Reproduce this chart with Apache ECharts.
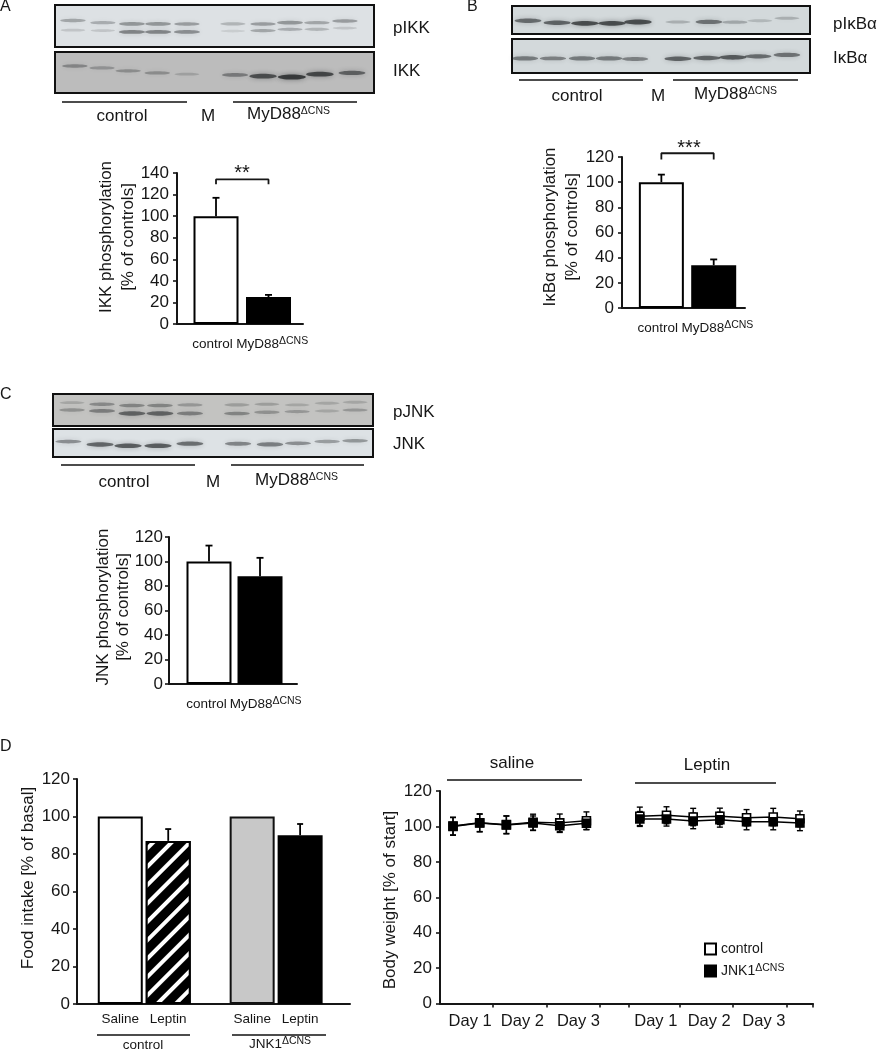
<!DOCTYPE html>
<html><head><meta charset="utf-8">
<style>html,body{margin:0;padding:0;background:#fff}#c{width:880px;height:1050px}</style>
<script src="https://cdn.jsdelivr.net/npm/echarts@6/dist/echarts.min.js"></script>
</head><body><div id="c"></div>
<script>
// ---------- data ----------
const barCatsMyd = ['control{sup| }', 'MyD88{sup|ΔCNS}'];
const ikkValues = [100, 25];
const ikkErrors = [17, 2];
const ikbValues = [100, 34];
const ikbErrors = [6, 4.6];
const jnkValues = [100, 88];
const jnkErrors = [13, 15];
const foodCats = ['Saline', 'Leptin', 'Saline', 'Leptin'];
const foodValues = [100, 87, 100, 90];
const foodErrors = [0, 6.3, 0, 6];
const dayLabels = ['Day 1', 'Day 2', 'Day 3', 'Day 1', 'Day 2', 'Day 3'];
const salineDays = [1, 2, 3, 4, 5, 6];
const leptinDays = [8, 9, 10, 11, 12, 13, 14];
const salineControl = [100.2, 102.1, 101, 102.3, 102, 103.2];
const salineControlErr = [5, 5, 5, 4.6, 5, 5];
const salineJnk = [100, 101.9, 100.8, 101.9, 100.4, 101.8];
const salineJnkErr = [5, 5, 5, 4, 3.8, 3.6];
const leptinControl = [105.7, 106.3, 105.3, 105.7, 104.9, 105.3, 104.3];
const leptinControlErr = [5.2, 4.8, 4.9, 4.6, 4.6, 4.9, 4.4];
const leptinJnk = [104.2, 104.2, 103.1, 103.8, 102.6, 102.6, 101.9];
const leptinJnkErr = [4.2, 4, 4.4, 4.2, 4.5, 4.5, 4.3];
// blots: lane number, height in the membrane (0..1), band density (0..1)
const pikkLanes = [1, 2.1, 3.17, 4.13, 5.19, 6.88, 7.99, 8.98, 9.97, 11];
const pikkUpperY = [.63, .58, .55, .55, .55, .55, .55, .58, .58, .62];
const pikkUpper = [.35, .3, .45, .45, .4, .25, .4, .45, .35, .4];
const pikkLowerY = [.4, .39, .36, .36, .36, .38, .39, .42, .42, .45];
const pikkLower = [.15, .15, .55, .55, .5, .1, .35, .3, .25, .15];
const ikkLanes = [1.07, 2.07, 3.03, 4.1, 5.19, 6.96, 7.99, 9.05, 10.08, 11.26];
const ikkY = [.66, .61, .54, .49, .46, .44, .41, .39, .46, .49];
const ikkBand = [.4, .3, .35, .35, .2, .5, .85, 1, .9, .7];
const pikbLanes = [1, 2.12, 3.19, 4.23, 5.23, 6.77, 7.96, 8.96, 9.92, 10.96];
const pikbY = [.475, .4, .38, .38, .43, .43, .43, .42, .475, .56];
const pikbBand = [.7, .75, .9, .9, .9, .25, .65, .3, .2, .25];
const ikbLanes = [.88, 1.96, 3.08, 4.12, 5.12, 6.77, 7.88, 8.88, 9.85, 10.96];
const ikbY = [.43, .43, .43, .43, .41, .42, .44, .46, .49, .53];
const ikbBand = [.6, .55, .6, .6, .55, .75, .75, .8, .7, .65];
const pjnkLanes = [1, 2.07, 3.14, 4.14, 5.21, 6.89, 7.96, 9.04, 10.11, 11.11];
const pjnkUpperY = [.73, .68, .64, .64, .66, .66, .68, .66, .71, .74];
const pjnkUpper = [.2, .4, .45, .45, .3, .25, .25, .2, .2, .2];
const pjnkLowerY = [.5, .47, .39, .39, .39, .39, .43, .45, .47, .5];
const pjnkLower = [.35, .5, .7, .7, .5, .45, .35, .3, .2, .3];
const jnkLanes = [.87, 2, 3, 4.07, 5.21, 6.93, 8.07, 9.07, 10.11, 11.11];
const jnkY = [.55, .45, .4, .4, .476, .476, .45, .49, .55, .58];
const jnkBand = [.5, .75, .8, .8, .7, .55, .6, .5, .4, .45];

// ---------- builders ----------
const FONT = '"Liberation Sans", Arial, sans-serif';
const INK = '#161616';
const SUP = {sup: {fontSize: 10.5, fontFamily: FONT, color: INK, verticalAlign: 'top', lineHeight: 16, padding: [0, 0, 0, 0]}};
const grid = [], xAxis = [], yAxis = [], series = [], graphic = [];

function addGrid(left, top, right, bottom, xa, ya, extra) {
  grid.push(Object.assign({left, top, width: right - left, height: bottom - top, show: false}, extra || {}));
  const i = grid.length - 1;
  xAxis.push(Object.assign({gridIndex: i, type: 'value', splitLine: {show: false}}, xa));
  yAxis.push(Object.assign({gridIndex: i, type: 'value', splitLine: {show: false}}, ya));
  return i;
}
const line2 = {lineStyle: {color: INK, width: 2}};
function yVisible(max, margin) {
  return {min: 0, max, interval: 20, axisLine: Object.assign({show: true}, line2),
    axisTick: {show: true, length: 4, lineStyle: {color: INK, width: 1.6}},
    axisLabel: {fontSize: 17, fontFamily: FONT, color: INK, margin: margin || 8}};
}
function xVisible(min, max, labels, at, size, margin) {
  return {min, max, axisLine: Object.assign({show: true, onZero: false}, line2), axisTick: {show: false},
    axisLabel: {customValues: at, fontSize: size, fontFamily: FONT, color: INK, margin, rich: SUP, hideOverlap: false,
      showMinLabel: true, showMaxLabel: true,
      formatter: v => labels[at.indexOf(v)] || ''}};
}
function errorSeries(gi, data, cap, width) {
  series.push({type: 'custom', xAxisIndex: gi, yAxisIndex: gi, z: 1, silent: true, data,
    renderItem(p, api) {
      const x = api.value(0), lo = api.coord([x, api.value(1)]), hi = api.coord([x, api.value(2)]);
      const st = {stroke: '#000', lineWidth: width, fill: null};
      const kids = [{type: 'line', shape: {x1: lo[0], y1: lo[1], x2: hi[0], y2: hi[1]}, style: st},
                    {type: 'line', shape: {x1: hi[0] - cap, y1: hi[1], x2: hi[0] + cap, y2: hi[1]}, style: st}];
      if (api.value(3)) kids.push({type: 'line', shape: {x1: lo[0] - cap, y1: lo[1], x2: lo[0] + cap, y2: lo[1]}, style: st});
      return {type: 'group', children: kids};
    }});
}
const WHITE = {color: '#fff', borderColor: '#000', borderWidth: 2};
const BLACK = {color: '#000', borderColor: '#000', borderWidth: 2};
function barPanel(g, xr, labelAt, max, values, errors, bracket, tickMargin) {
  const gi = addGrid(g[0], g[1], g[2], g[3], xVisible(xr[0], xr[1], barCatsMyd, labelAt, 13.5, 12), yVisible(max, tickMargin));
  errorSeries(gi, values.map((v, i) => [i + 1, v, v + errors[i], 0]), 3.5, 1.8);
  series.push({type: 'bar', xAxisIndex: gi, yAxisIndex: gi, barWidth: 45, z: 2, silent: true,
    data: values.map((v, i) => ({value: [i + 1, v], itemStyle: i ? BLACK : WHITE}))});
  if (bracket) series.push({type: 'line', xAxisIndex: gi, yAxisIndex: gi, symbol: 'none', silent: true, clip: false, z: 3,
    lineStyle: {color: INK, width: 1.8}, data: [[1, bracket[0]], [1, bracket[1]], [2, bracket[1]], [2, bracket[0]]]});
  return gi;
}
function bandSeries(gi, lanes, ys, dens) {
  series.push({type: 'custom', xAxisIndex: gi, yAxisIndex: gi, silent: true,
    data: lanes.map((l, i) => [l, ys[i], dens[i]]),
    renderItem(p, api) {
      const c = api.coord([api.value(0), api.value(1)]), d = api.value(2);
      const a = 0.03 + 0.72 * d;
      return {type: 'ellipse', shape: {cx: c[0], cy: c[1], rx: 12 + 2 * d, ry: 1.2 + 1.4 * d},
        style: {fill: 'rgba(25,28,30,' + a.toFixed(2) + ')', shadowBlur: 5, shadowColor: 'rgba(25,28,30,' + (a * 0.8).toFixed(2) + ')'}};
    }});
}
function blot(b, bg, laneMin, laneMax, rows) {
  const gi = addGrid(b[0], b[1], b[2], b[3],
    {min: laneMin, max: laneMax, show: false}, {min: 0, max: 1, show: false},
    {show: true, backgroundColor: bg, borderColor: '#111', borderWidth: 2});
  rows.forEach(r => bandSeries(gi, r[0], r[1], r[2]));
}
function text(x, y, t, size, opt) {
  graphic.push(Object.assign({type: 'text', x, y, silent: true, z: 50,
    style: {text: t, fontSize: size, fontFamily: FONT, fill: INK, align: 'center', verticalAlign: 'middle', rich: SUP}}, opt || {}));
}
function leftText(x, y, t, size) {
  text(x, y, t, size); graphic[graphic.length - 1].style.align = 'left';
}
function vtext(x, y, t, size) { text(x, y, t, size, {rotation: Math.PI / 2}); }
function rule(x1, x2, y, w) {
  graphic.push({type: 'line', silent: true, z: 50, shape: {x1, y1: y, x2, y2: y}, style: {stroke: '#111', lineWidth: w || 1.7}});
}

// ---------- panel A ----------
blot([55, 5, 374, 47], '#dde1e4', .34, 12.07, [[pikkLanes, pikkUpperY, pikkUpper], [pikkLanes, pikkLowerY, pikkLower]]);
blot([55, 52, 374, 93], '#bcbcbc', .34, 12.07, [[ikkLanes, ikkY, ikkBand]]);
rule(62, 187, 102); rule(233, 357, 102);
text(122, 116, 'control', 17); text(208, 116, 'M', 17); leftText(247, 114, 'MyD88{sup|ΔCNS}', 17);
leftText(393, 28, 'pIKK', 17); leftText(393, 71, 'IKK', 17);
leftText(0, 7, 'A', 16);
barPanel([177, 173, 303, 324], [.257, 2.657], [.96, 2.07], 140, ikkValues, ikkErrors, [129.5, 134]);
text(242, 173, '**', 20);
vtext(106, 237, 'IKK phosphorylation', 17); vtext(128, 237, '[% of controls]', 17);

// ---------- panel B ----------
blot([512, 6, 810, 34], '#d3d9db', .385, 11.85, [[pikbLanes, pikbY, pikbBand]]);
blot([512, 39, 810, 73], '#d3d9db', .385, 11.85, [[ikbLanes, ikbY, ikbBand]]);
rule(519, 643, 80); rule(673, 798, 80);
text(577, 96, 'control', 17); text(658, 96, 'M', 17); leftText(694, 94, 'MyD88{sup|ΔCNS}', 17);
leftText(833, 24, 'pIκBα', 17); leftText(833, 58, 'IκBα', 17);
leftText(467, 7, 'B', 16);
barPanel([622, 157, 745, 308], [.248, 2.598], [.96, 2.07], 120, ikbValues, ikbErrors, [118, 123]);
text(689, 148, '***', 20);
vtext(550, 227, 'IκBα phosphorylation', 17); vtext(572, 227, '[% of controls]', 17);

// ---------- panel C ----------
blot([53, 394, 373, 426], '#c3c3c1', .32, 11.75, [[pjnkLanes, pjnkUpperY, pjnkUpper], [pjnkLanes, pjnkLowerY, pjnkLower]]);
blot([53, 429, 373, 457], '#dde2e5', .32, 11.75, [[jnkLanes, jnkY, jnkBand]]);
rule(61, 195, 465); rule(231, 364, 465);
text(124, 482, 'control', 17); text(213, 482, 'M', 17); leftText(255, 480, 'MyD88{sup|ΔCNS}', 17);
leftText(393, 412, 'pJNK', 17); leftText(393, 444, 'JNK', 17);
leftText(0, 395, 'C', 16);
barPanel([169, 537, 297, 684], [.216, 2.725], [.98, 2.11], 120, jnkValues, jnkErrors, null, 6);
vtext(103, 607, 'JNK phosphorylation', 17); vtext(123, 607, '[% of controls]', 17);

// ---------- panel D left ----------
leftText(0, 747, 'D', 16);
const foodAt = [1, 2, 3.75, 4.75];
const giF = addGrid(77, 779, 350, 1004, xVisible(.098, 5.79, foodCats, foodAt, 13.5, 8), yVisible(120, 7));
errorSeries(giF, foodValues.map((v, i) => [foodAt[i], v, v + foodErrors[i], 0]).filter((d, i) => foodErrors[i]), 3, 1.8);
const foodStyles = [WHITE,
  {color: '#000', borderColor: '#000', borderWidth: 2,
   decal: {symbol: 'rect', color: '#fff', dashArrayX: [1, 0], dashArrayY: [4, 9], rotation: -Math.PI / 4, symbolSize: 1}},
  {color: '#c8c8c8', borderColor: '#111', borderWidth: 2}, BLACK];
series.push({type: 'bar', xAxisIndex: giF, yAxisIndex: giF, barWidth: 45, z: 2, silent: true,
  data: foodValues.map((v, i) => ({value: [foodAt[i], v], itemStyle: foodStyles[i]}))});
rule(97, 190, 1035, 1.3); rule(232, 326, 1035, 1.3);
text(143, 1045, 'control', 13.5); text(280, 1044, 'JNK1{sup|ΔCNS}', 13.5);
vtext(28, 878, 'Food intake [% of basal]', 17);

// ---------- panel D right ----------
const dayAt = [1.64, 3.6, 5.7, 8.6, 10.6, 12.65];
const dayTicks = [2.5, 4.5, 6.5, 7.6, 9.5, 11.5, 13.5, 14.49];
const xw = xVisible(.5125, 14.49, dayLabels, dayAt, 16.5, 9);
xw.axisTick = {show: true, customValues: dayTicks, length: 4, lineStyle: {color: INK, width: 1.6}};
const giW = addGrid(440, 791, 813, 1003.5, xw, yVisible(120));
function weight(name, days, vals, errs, style) {
  errorSeries(giW, days.map((d, i) => [d, vals[i] - errs[i], vals[i] + errs[i], 1]), 3, 1.4);
  series.push({type: 'line', name, xAxisIndex: giW, yAxisIndex: giW, silent: true, clip: false, z: style.z,
    symbol: 'rect', symbolSize: 8, showSymbol: true,
    lineStyle: {color: '#000', width: 1.5},
    itemStyle: {color: style.fill, borderColor: '#000', borderWidth: 1.6},
    data: days.map((d, i) => [d, vals[i]])});
}
const ctl = {fill: '#fff', z: 3}, jk = {fill: '#000', z: 5};
weight('control', salineDays, salineControl, salineControlErr, ctl);
weight('JNK1', salineDays, salineJnk, salineJnkErr, jk);
weight('control', leptinDays, leptinControl, leptinControlErr, ctl);
weight('JNK1', leptinDays, leptinJnk, leptinJnkErr, jk);
rule(447, 582, 780); rule(635, 776, 783);
text(512, 763, 'saline', 17); text(707, 765, 'Leptin', 17);
vtext(390, 900, 'Body weight [% of start]', 17);

const option = {
  animation: false, backgroundColor: '#fff', textStyle: {fontFamily: FONT},
  grid, xAxis, yAxis, series, graphic: {elements: graphic},
  legend: {data: ['control', 'JNK1'], orient: 'vertical', left: 704, top: 942, itemGap: 7, itemWidth: 11, itemHeight: 11,
    icon: 'rect', selectedMode: false, padding: 0,
    formatter: n => n === 'JNK1' ? 'JNK1{sup|ΔCNS}' : n,
    textStyle: {fontSize: 14, fontFamily: FONT, color: INK, rich: SUP}}
};
echarts.init(document.getElementById('c'), null, {renderer: 'canvas'}).setOption(option);
</script></body></html>
